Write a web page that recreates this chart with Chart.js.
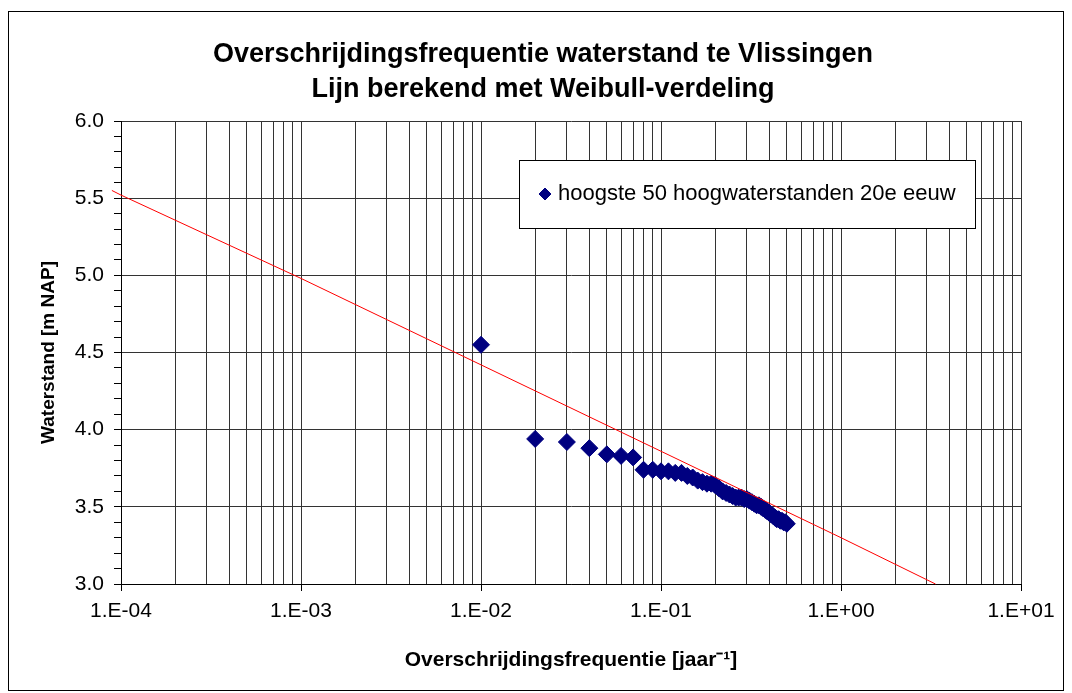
<!DOCTYPE html>
<html>
<head>
<meta charset="utf-8">
<script src="https://cdn.jsdelivr.net/npm/chart.js@4.4.1/dist/chart.umd.min.js"></script>
<style>
  body { margin: 0; background: #fff; }
  #wrap { width: 1072px; height: 693px; }
</style>
</head>
<body>
<div id="wrap"><canvas id="grafiek" width="1072" height="693"></canvas></div>
<script>
"use strict";

// titel en labels
const titelRegels = ["Overschrijdingsfrequentie waterstand te Vlissingen", "Lijn berekend met Weibull-verdeling"];
const legendaTekst = "hoogste 50 hoogwaterstanden 20e eeuw";
const xTitel = "Overschrijdingsfrequentie [jaar\u207B\u00B9]";
const yTitel = "Waterstand [m NAP]";

// meetpunten (frequentie per jaar, waterstand m NAP)
const frequenties = [
  0.01, 0.02, 0.03, 0.04, 0.05, 0.06, 0.07, 0.08, 0.09, 0.10,
  0.11, 0.12, 0.13, 0.14, 0.15, 0.16, 0.17, 0.18, 0.19, 0.20,
  0.21, 0.22, 0.23, 0.24, 0.25, 0.26, 0.27, 0.28, 0.29, 0.30,
  0.31, 0.32, 0.33, 0.34, 0.35, 0.36, 0.37, 0.38, 0.39, 0.40,
  0.41, 0.42, 0.43, 0.44, 0.45, 0.46, 0.47, 0.48, 0.49, 0.50
];
const waterstanden = [
  4.55, 3.94, 3.92, 3.88, 3.84, 3.83, 3.82, 3.74, 3.74, 3.73,
  3.73, 3.72, 3.72, 3.70, 3.69, 3.67, 3.66, 3.65, 3.65, 3.64,
  3.62, 3.60, 3.59, 3.58, 3.57, 3.56, 3.56, 3.56, 3.55, 3.55,
  3.54, 3.53, 3.52, 3.51, 3.51, 3.50, 3.49, 3.48, 3.47, 3.46,
  3.45, 3.44, 3.43, 3.42, 3.42, 3.41, 3.41, 3.40, 3.40, 3.39
];

const lijnFrequenties = [0.000089, 0.0001, 0.001, 0.01, 0.1, 1, 3.35];
const lijnStanden = [5.55, 5.52, 4.98, 4.42, 3.86, 3.30, 3.00];

// as-instellingen
const decaden = [-4, -3, -2, -1, 0, 1];
const xMin = 1e-4, xMax = 10;
const yMin = 3.0, yMax = 6.0;

// alle log-ticks 1..9 per decade
const xTicks = [];
decaden.forEach(function (e) {
  for (let m = 1; m <= 9; m++) {
    const v = m * Math.pow(10, e);
    if (v <= xMax + 1e-12) xTicks.push(v);
  }
});

function isDecade(v) {
  const e = Math.log10(v);
  return Math.abs(e - Math.round(e)) < 1e-9;
}
function isHalf(v) {
  return Math.abs(v * 2 - Math.round(v * 2)) < 1e-6;
}
function decadeLabel(v) {
  const e = Math.round(Math.log10(v));
  const s = Math.abs(e) < 10 ? "0" + Math.abs(e) : "" + Math.abs(e);
  return "1.E" + (e < 0 ? "-" : "+") + s;
}

const lettertype = "'Liberation Sans', Arial, sans-serif";

// kader, titel en legenda
const tekenExtra = {
  id: "tekenExtra",
  beforeDraw: function (chart) {
    const ctx = chart.ctx;
    ctx.save();
    ctx.fillStyle = "#fff";
    ctx.fillRect(0, 0, chart.width, chart.height);
    ctx.strokeStyle = "#000";
    ctx.lineWidth = 1;
    ctx.strokeRect(8.5, 11.5, 1055, 679);
    ctx.restore();
  },
  afterDraw: function (chart) {
    const ctx = chart.ctx;
    ctx.save();
    // titel
    ctx.fillStyle = "#000";
    ctx.font = "bold 27px " + lettertype;
    ctx.textAlign = "center";
    ctx.textBaseline = "alphabetic";
    ctx.fillText(titelRegels[0], 543, 62);
    ctx.fillText(titelRegels[1], 543, 97);

    // legenda
    ctx.fillStyle = "#fff";
    ctx.fillRect(519, 160, 456, 68);
    ctx.strokeStyle = "#000";
    ctx.lineWidth = 1;
    ctx.strokeRect(519.5, 160.5, 456, 68);
    const ds = chart.data.datasets[1];
    ctx.fillStyle = ds.backgroundColor;
    ctx.strokeStyle = ds.borderColor;
    Chart.helpers.drawPoint(ctx, { pointStyle: "rectRot", radius: 6, borderWidth: 1 }, 545, 194);
    ctx.fillStyle = "#000";
    ctx.font = "22px " + lettertype;
    ctx.textAlign = "left";
    ctx.textBaseline = "middle";
    ctx.fillText(legendaTekst, 558, 194);
    ctx.restore();
  }
};

const ctx = document.getElementById("grafiek").getContext("2d");

new Chart(ctx, {
  type: "scatter",
  data: {
    datasets: [
      {
        label: "Weibull",
        data: lijnFrequenties.map((f, i) => ({ x: f, y: lijnStanden[i] })),
        showLine: true,
        borderColor: "#FF0000",
        borderWidth: 1,
        pointRadius: 0,
        fill: false,
        clip: false
      },
      {
        label: legendaTekst,
        data: frequenties.map((f, i) => ({ x: f, y: waterstanden[i] })),
        pointStyle: "rectRot",
        pointRadius: 8.5,
        backgroundColor: "#000080",
        borderColor: "#000080",
        borderWidth: 1
      }
    ]
  },
  options: {
    responsive: false,
    animation: false,
    layout: {
      padding: { left: 28, right: 51, top: 121, bottom: 12 }
    },
    plugins: {
      legend: { display: false },
      tooltip: { enabled: false },
      title: { display: false }
    },
    scales: {
      x: {
        type: "logarithmic",
        min: xMin,
        max: xMax,
        afterBuildTicks: function (scale) {
          scale.ticks = xTicks.map(v => ({ value: v }));
        },
        afterFit: function (scale) {
          scale.height = 693 - 12 - 584;
        },
        ticks: {
          autoSkip: false,
          maxRotation: 0,
          padding: 8,
          color: "#000",
          font: { family: lettertype, size: 21 },
          callback: function (v) {
            return isDecade(v) ? decadeLabel(v) : "";
          }
        },
        grid: {
          color: "#333",
          lineWidth: 1,
          tickLength: 7,
          tickColor: function (c) {
            return c.tick && isDecade(c.tick.value) ? "#000" : "rgba(0,0,0,0)";
          }
        },
        border: { color: "#000", width: 1 },
        title: {
          display: true,
          text: xTitel,
          color: "#000",
          font: { family: lettertype, size: 21, weight: "bold" },
          padding: { top: 0, bottom: 8 }
        }
      },
      y: {
        type: "linear",
        min: yMin,
        max: yMax,
        afterFit: function (scale) {
          scale.width = 121 - 28;
        },
        ticks: {
          stepSize: 0.1,
          autoSkip: false,
          padding: 10,
          color: "#000",
          font: { family: lettertype, size: 21 },
          callback: function (v) {
            return isHalf(v) ? v.toFixed(1) : "";
          }
        },
        grid: {
          color: function (c) {
            return c.tick && isHalf(c.tick.value) ? "#333" : "rgba(0,0,0,0)";
          },
          tickColor: "#000",
          tickLength: 7
        },
        border: { color: "#000", width: 1 },
        title: {
          display: true,
          text: yTitel,
          color: "#000",
          font: { family: lettertype, size: 19, weight: "bold" },
          padding: { top: 9, bottom: 0 }
        }
      }
    }
  },
  plugins: [tekenExtra]
});
</script>
</body>
</html>
